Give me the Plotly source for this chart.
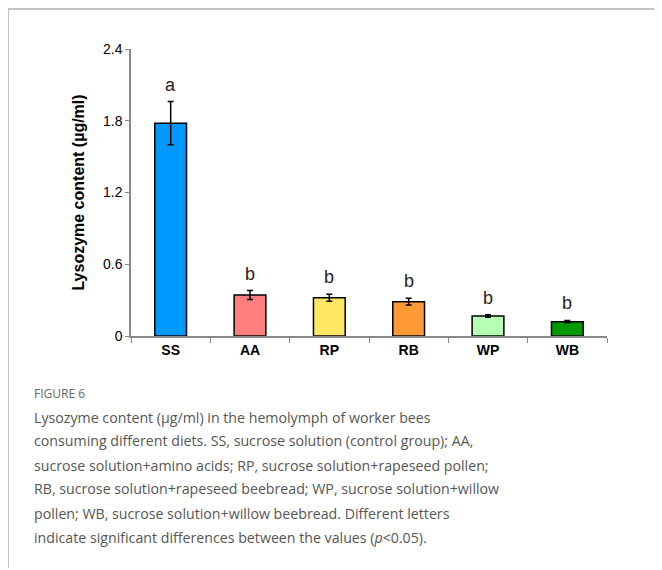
import plotly.graph_objects as go

categories = ["SS", "AA", "RP", "RB", "WP", "WB"]
values = [1.78, 0.343, 0.32, 0.287, 0.167, 0.12]
errors = [0.18, 0.037, 0.03, 0.028, 0.01, 0.01]
letters = ["a", "b", "b", "b", "b", "b"]
colors = ["#0099FF", "#FF7F7F", "#FFE766", "#FF9933", "#B5FFB5", "#009900"]
yticks = [0, 0.6, 1.2, 1.8, 2.4]
ytick_text = ["0", "0.6", "1.2", "1.8", "2.4"]
caption_lines = [
    "Lysozyme content (µg/ml) in the hemolymph of worker bees",
    "consuming different diets. SS, sucrose solution (control group); AA,",
    "sucrose solution+amino acids; RP, sucrose solution+rapeseed pollen;",
    "RB, sucrose solution+rapeseed beebread; WP, sucrose solution+willow",
    "pollen; WB, sucrose solution+willow beebread. Different letters",
    "indicate significant differences between the values (<i>p</i><0.05).",
]

OFF = 8  # page body margin
W, H = 662 - OFF, 570 - OFF
L, R, T, B = 131 - OFF, 607 - OFF, 49 - OFF, 336 - OFF

def px(x):
    return (x - OFF - L) / (R - L)

def py(y):
    return (B - (y - OFF)) / (B - T)

fig = go.Figure()
fig.add_trace(go.Bar(
    x=categories, y=values,
    marker=dict(color=colors, line=dict(color="black", width=1.5)),
    width=0.4,
    error_y=dict(type="data", array=errors, visible=True, color="black", thickness=1.5, width=3),
    showlegend=False,
))

for c, v, e, t in zip(categories, values, errors, letters):
    fig.add_annotation(x=c, y=v + e, text=t, showarrow=False, yanchor="middle", yshift=17,
                       font=dict(family="Arial, Liberation Sans", size=18, color="#222"))

fig.add_annotation(xref="paper", yref="paper", x=px(32), y=py(393), xanchor="left", yanchor="middle",
                   text="FIGURE 6", showarrow=False,
                   font=dict(family="Open Sans", size=12, color="#666"))

for i, line in enumerate(caption_lines):
    fig.add_annotation(xref="paper", yref="paper", x=px(32), y=py(417 + 24 * i),
                       xanchor="left", yanchor="middle",
                       text=line, showarrow=False, align="left",
                       font=dict(family="Open Sans", size=14.2, color="#555"))

frame_color = "#B0B0B0"
fig.add_shape(type="line", xref="paper", yref="paper", x0=px(8), x1=px(662), y0=py(9), y1=py(9),
              line=dict(color=frame_color, width=1.5))
fig.add_shape(type="line", xref="paper", yref="paper", x0=px(8), x1=px(8), y0=py(9), y1=py(568),
              line=dict(color=frame_color, width=1.5))

fig.update_layout(
    width=W, height=H,
    margin=dict(l=L, r=W - R, t=T, b=H - B),
    plot_bgcolor="white", paper_bgcolor="white",
    xaxis=dict(range=[-0.5, 5.5], tickson="boundaries", ticks="outside", ticklen=5,
               tickcolor="#888", showline=True, linecolor="#888", linewidth=1.5,
               tickfont=dict(family="Arial, Liberation Sans", size=14, color="black", weight="bold"),
               showgrid=False, fixedrange=True),
    yaxis=dict(range=[0, 2.4], tickvals=yticks, ticktext=ytick_text, ticks="outside", ticklen=4,
               tickcolor="#888", showline=True, linecolor="#888", linewidth=1.5,
               tickfont=dict(family="Arial, Liberation Sans", size=14, color="black"),
               showgrid=False, zeroline=False,
               title=dict(text="<b>Lysozyme content (µg/ml)</b>", standoff=14,
                          font=dict(family="Arial, Liberation Sans", size=16, color="black"))),
    bargap=0.6,
)

fig.write_html("out.html")
